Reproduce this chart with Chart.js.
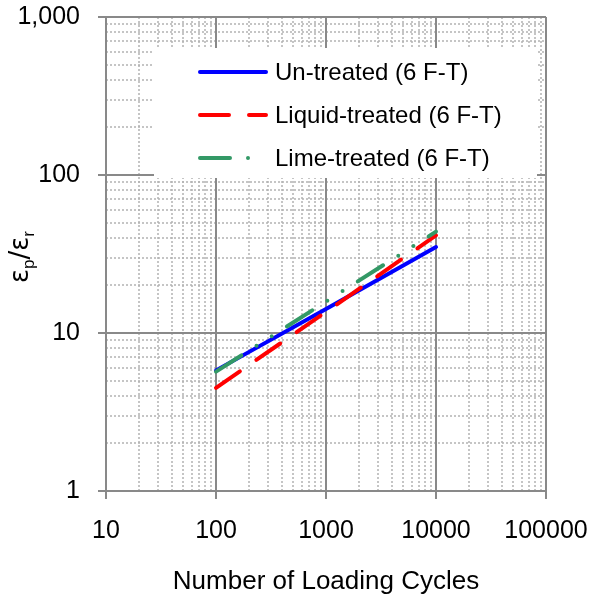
<!DOCTYPE html>
<html>
<head>
<meta charset="utf-8">
<script src="https://cdn.jsdelivr.net/npm/chart.js@4/dist/chart.umd.min.js"></script>
<style>
  html, body { margin: 0; padding: 0; background: #ffffff; }
  #wrap { width: 592px; height: 597px; position: relative; }
</style>
</head>
<body>
<div id="wrap"><canvas id="chart" width="592" height="597"></canvas></div>
<script>
// Permanent-to-resilient strain ratio vs. number of loading cycles (log-log)
const cycles = [100, 1000, 10000];
const untreated = [5.8, 14.2, 35.0];
const liquidTreated = [4.5, 13.6, 41.5];
const limeTreated = [5.7, 15.8, 43.8];
const seriesLabels = ['Un-treated (6 F-T)', 'Liquid-treated (6 F-T)', 'Lime-treated (6 F-T)'];

const xTicks = [10, 100, 1000, 10000, 100000];
const xTickLabels = ['10', '100', '1000', '10000', '100000'];
const yTicks = [1, 10, 100, 1000];
const yTickLabels = ['1', '10', '100', '1,000'];

const FONT = "'Liberation Sans', Arial, Helvetica, sans-serif";
const GREEK = "'DejaVu Sans', sans-serif";
const MAJOR = '#898989';
const MINOR = '#b3b3b3';

function pairs(xs, ys) { return xs.map((x, i) => ({ x: x, y: ys[i] })); }

// keep the plot area fixed: tick labels may overhang the canvas margins
function noLabelPadding(scale) {
  scale.paddingLeft = 0; scale.paddingRight = 0;
  scale.paddingTop = 0; scale.paddingBottom = 0;
}

// dotted minor grid for every 2..9 sub-division of each decade
const minorGrid = {
  id: 'minorGrid',
  beforeDraw(chart) {
    const { ctx, chartArea: a, scales: { x, y } } = chart;
    ctx.save();
    ctx.strokeStyle = MINOR;
    ctx.lineWidth = 1.5;
    ctx.setLineDash([2, 2]);
    for (let d = 0; d < xTicks.length - 1; d++) {
      for (let m = 2; m <= 9; m++) {
        const px = Math.round(x.getPixelForValue(xTicks[d] * m));
        ctx.beginPath(); ctx.moveTo(px, a.top); ctx.lineTo(px, a.bottom); ctx.stroke();
      }
    }
    for (let d = 0; d < yTicks.length - 1; d++) {
      for (let m = 2; m <= 9; m++) {
        const py = Math.round(y.getPixelForValue(yTicks[d] * m));
        ctx.beginPath(); ctx.moveTo(a.left, py); ctx.lineTo(a.right, py); ctx.stroke();
      }
    }
    ctx.restore();
  }
};

// boxed legend inside the plot, plus the y-axis title with subscripts
const overlay = {
  id: 'overlay',
  afterDraw(chart) {
    const ctx = chart.ctx;
    ctx.save();
    // legend panel
    ctx.fillStyle = '#ffffff';
    ctx.fillRect(154, 48, 383, 130);
    const rows = [72, 115, 158];
    chart.data.datasets.forEach((ds, i) => {
      const yy = rows[i];
      ctx.strokeStyle = ds.borderColor;
      ctx.lineWidth = ds.borderWidth;
      ctx.lineCap = 'round';
      ctx.setLineDash(ds.borderDash || []);
      ctx.beginPath(); ctx.moveTo(200, yy); ctx.lineTo(266, yy); ctx.stroke();
      ctx.setLineDash([]);
      ctx.fillStyle = '#000000';
      ctx.font = '24px ' + FONT;
      ctx.textBaseline = 'middle';
      ctx.textAlign = 'left';
      ctx.fillText(ds.label, 275, yy + 1);
    });

    // y-axis title: ε_p / ε_r
    const big = '26px ' + GREEK, small = '17px ' + FONT;
    const parts = [['ε', big, 0], ['p', small, 6], ['/', big, 0], ['ε', big, 0], ['r', small, 6]];
    let total = 0;
    parts.forEach(p => { ctx.font = p[1]; total += ctx.measureText(p[0]).width; });
    ctx.translate(28, 257);
    ctx.rotate(-Math.PI / 2);
    ctx.fillStyle = '#000000';
    ctx.textBaseline = 'alphabetic';
    let cx = -total / 2;
    parts.forEach(p => {
      ctx.font = p[1];
      ctx.fillText(p[0], cx, p[2]);
      cx += ctx.measureText(p[0]).width;
    });
    ctx.restore();
  }
};

new Chart(document.getElementById('chart'), {
  type: 'line',
  data: {
    datasets: [
      {
        label: seriesLabels[0],
        data: pairs(cycles, untreated),
        borderColor: '#0000ff',
        borderWidth: 4,
        borderCapStyle: 'round',
        order: 2
      },
      {
        label: seriesLabels[1],
        data: pairs(cycles, liquidTreated),
        borderColor: '#ff0000',
        borderWidth: 4,
        borderDash: [29, 20],
        borderCapStyle: 'round',
        order: 1
      },
      {
        label: seriesLabels[2],
        data: pairs(cycles, limeTreated),
        borderColor: '#339966',
        borderWidth: 4,
        borderDash: [30, 18, 0, 18, 0, 18],
        borderCapStyle: 'round',
        order: 0
      }
    ]
  },
  options: {
    responsive: false,
    animation: false,
    devicePixelRatio: 1,
    layout: { padding: { top: 17, right: 46, left: 0, bottom: 0 } },
    elements: { point: { radius: 0, hoverRadius: 0 }, line: { tension: 0 } },
    plugins: { legend: { display: false }, tooltip: { enabled: false } },
    events: [],
    scales: {
      x: {
        type: 'logarithmic',
        min: 10,
        max: 100000,
        afterBuildTicks(scale) { scale.ticks = xTicks.map(v => ({ value: v, major: true })); },
        afterFit(scale) { scale.height = 106; noLabelPadding(scale); },
        ticks: {
          autoSkip: false,
          maxRotation: 0,
          padding: 17,
          color: '#000000',
          font: { family: FONT, size: 25 },
          callback(value) { const i = xTicks.indexOf(value); return i >= 0 ? xTickLabels[i] : ''; }
        },
        grid: { color: MAJOR, lineWidth: 2, tickLength: 8, tickColor: MAJOR, tickWidth: 2 },
        border: { color: MAJOR, width: 2 },
        title: {
          display: true,
          text: 'Number of Loading Cycles',
          color: '#000000',
          font: { family: FONT, size: 26 },
          padding: { top: 0, bottom: 0 }
        }
      },
      y: {
        type: 'logarithmic',
        min: 1,
        max: 1000,
        afterBuildTicks(scale) { scale.ticks = yTicks.map(v => ({ value: v, major: true })); },
        afterFit(scale) { scale.width = 106; noLabelPadding(scale); },
        ticks: {
          autoSkip: false,
          padding: 18,
          color: '#000000',
          font: { family: FONT, size: 25 },
          callback(value) { const i = yTicks.indexOf(value); return i >= 0 ? yTickLabels[i] : ''; }
        },
        grid: { color: MAJOR, lineWidth: 2, tickLength: 8, tickColor: MAJOR, tickWidth: 2 },
        border: { color: MAJOR, width: 2 }
      }
    }
  },
  plugins: [minorGrid, overlay]
});
</script>
</body>
</html>
